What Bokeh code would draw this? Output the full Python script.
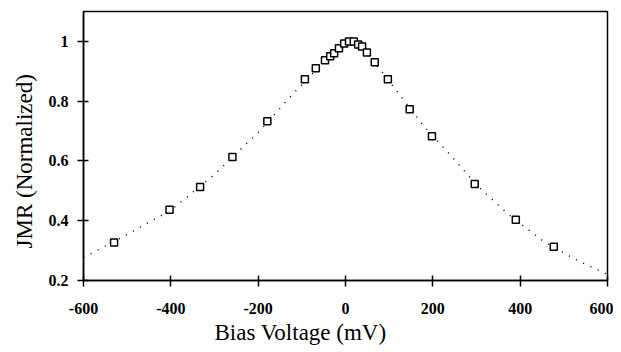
from bokeh.plotting import figure
from bokeh.models import FixedTicker, Range1d, Title
from bokeh.embed import file_html
from bokeh.resources import INLINE

# Measured points
bias_mv = [-530, -403, -333, -259, -179, -93, -68, -47, -35, -26, -15, -3, 8, 19, 29, 38, 49, 67, 97, 147, 198, 296, 390, 477]
jmr_norm = [0.327, 0.437, 0.513, 0.613, 0.733, 0.873, 0.91, 0.937, 0.95, 0.96, 0.977, 0.993, 1.0, 1.0, 0.99, 0.983, 0.963, 0.93, 0.873, 0.773, 0.683, 0.523, 0.403, 0.313]

# Fit curve
fit_mv = [-600, -530, -400, -300, -200, -120, -80, -40, 0, 15, 40, 80, 130, 180, 240, 300, 370, 450, 520, 600]
fit_jmr = [0.277, 0.33, 0.435, 0.555, 0.695, 0.825, 0.885, 0.95, 0.995, 1.0, 0.975, 0.905, 0.81, 0.715, 0.62, 0.52, 0.425, 0.335, 0.275, 0.22]

x_ticks = [-600, -400, -200, 0, 200, 400, 600]
x_tick_labels = ["-600", "-400", "-200", "0", "200", "400", "600"]
y_ticks = [0.2, 0.4, 0.6, 0.8, 1]
y_tick_labels = ["0.2", "0.4", "0.6", "0.8", "1"]

x_title = "Bias Voltage (mV)"
y_title = "JMR (Normalized)"

p = figure(width=613, height=352, output_backend="svg", toolbar_location=None,
           x_range=Range1d(-600, 600), y_range=Range1d(0.2, 1.1),
           min_border_left=81, min_border_right=6, min_border_top=11, min_border_bottom=72)

p.grid.visible = False
p.background_fill_color = "white"
p.border_fill_color = "white"
p.outline_line_color = "black"
p.outline_line_width = 1.5

p.line(fit_mv, fit_jmr, line_color="black", line_width=1.5, line_dash="1 7")
p.scatter(bias_mv, jmr_norm, marker="square", size=7, line_color="black",
          line_width=1.5, fill_color="white")

for ax in (p.xaxis[0], p.yaxis[0]):
    ax.axis_line_color = "black"
    ax.axis_line_width = 1.5
    ax.major_tick_line_color = "black"
    ax.major_tick_line_width = 1.5
    ax.major_tick_in = 5
    ax.major_tick_out = 6
    ax.minor_tick_line_color = None
    ax.major_label_text_font = "Liberation Serif"
    ax.major_label_text_font_style = "bold"
    ax.major_label_text_font_size = "16px"
    ax.major_label_text_color = "black"

p.xaxis.ticker = FixedTicker(ticks=x_ticks)
p.yaxis.ticker = FixedTicker(ticks=y_ticks)
p.xaxis.major_label_overrides = dict(zip(x_ticks, x_tick_labels))
p.yaxis.major_label_overrides = dict(zip(y_ticks, y_tick_labels))
p.xaxis.major_label_standoff = 16
p.yaxis.major_label_standoff = 9

# Axis titles placed as in the reference (slightly off-centre)
p.add_layout(Title(text=x_title, align="left", offset=131, standoff=3,
                   text_font="Liberation Serif", text_font_size="23px",
                   text_font_style="normal", text_color="black"), "below")
p.add_layout(Title(text=y_title, align="left", offset=32, standoff=18,
                   text_font="Liberation Serif", text_font_size="23px",
                   text_font_style="normal", text_color="black"), "left")

open("out.html", "w").write(file_html(p, INLINE))
